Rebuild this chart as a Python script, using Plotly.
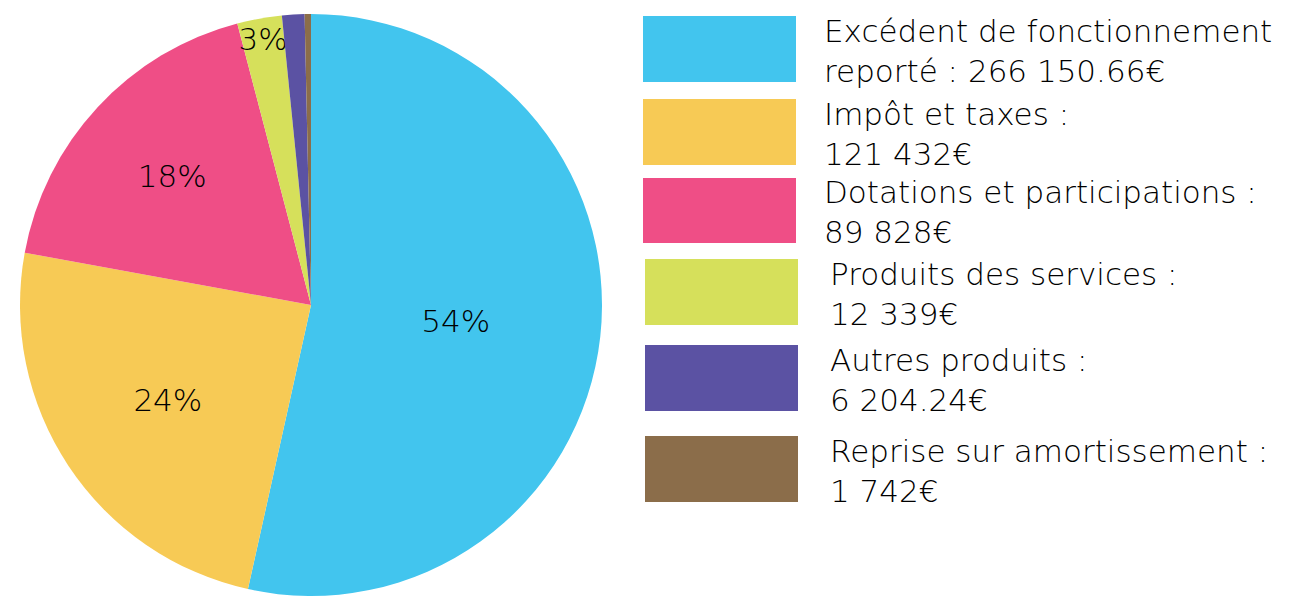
import plotly.graph_objects as go

# ---- data ----
categories = [
    "Excédent de fonctionnement\nreporté",
    "Impôt et taxes",
    "Dotations et participations",
    "Produits des services",
    "Autres produits",
    "Reprise sur amortissement",
]
values = [266150.66, 121432, 89828, 12339, 6204.24, 1742]
pct_labels = ["54%", "24%", "18%", "3%", "", ""]
colors = ["#42C5EE", "#F7CA55", "#EF4E86", "#D6E05B", "#5B52A3", "#8B6D4A"]

# page body has an 8px margin: work in screen pixels and shift
OFF = 8
W, H = 1291 - OFF, 596 - OFF
FONT = "DejaVu Sans"


def px(x):
    return (x - OFF) / W


def py(y):
    return 1 - (y - OFF) / H


def fmt_eur(v):
    s = f"{v:,.2f}".replace(",", " ")
    if s.endswith(".00"):
        s = s[:-3]
    return s + "€"


fig = go.Figure()
fig.add_trace(go.Pie(
    values=values,
    labels=[c.replace("\n", " ") for c in categories],
    text=pct_labels,
    textinfo="text",
    textposition="inside",
    insidetextorientation="horizontal",
    textfont=dict(family=FONT, size=31, color="#000000", weight=200),
    marker=dict(colors=colors, line=dict(width=0)),
    sort=False,
    direction="clockwise",
    rotation=0,
    showlegend=False,
    hoverinfo="skip",
    domain=dict(x=[px(20), px(602)], y=[max(py(596), 0), py(14)]),
))

# ---- custom legend (large swatches) ----
rect_x = [(643, 796), (643, 796), (643, 796), (645, 798), (645, 798), (645, 798)]
rect_y = [(16, 82), (99, 165), (178, 243), (259, 325), (345, 411), (436, 502)]
text_x = [822, 822, 822, 828, 828, 828]

shapes = []
annotations = []
for i, cat in enumerate(categories):
    x0, x1 = rect_x[i]
    y0, y1 = rect_y[i]
    shapes.append(dict(
        type="rect", xref="paper", yref="paper",
        x0=px(x0), x1=px(x1), y0=py(y1), y1=py(y0),
        fillcolor=colors[i], line=dict(width=0), layer="above",
    ))
    if "\n" in cat:
        txt = cat.replace("\n", "<br>") + " : " + fmt_eur(values[i])
    else:
        txt = cat + " :<br>" + fmt_eur(values[i])
    yc = (y0 + y1) / 2 + 2
    annotations.append(dict(
        xref="paper", yref="paper", x=px(text_x[i]), y=py(yc),
        xanchor="left", yanchor="middle", align="left", showarrow=False,
        text=txt, font=dict(family=FONT, size=31, color="#000000", weight=200),
    ))

fig.update_layout(
    width=W, height=H,
    margin=dict(l=0, r=0, t=0, b=0),
    paper_bgcolor="white", plot_bgcolor="white",
    shapes=shapes, annotations=annotations,
    uniformtext=dict(minsize=31, mode="show"),
)

fig.write_html("out.html")
